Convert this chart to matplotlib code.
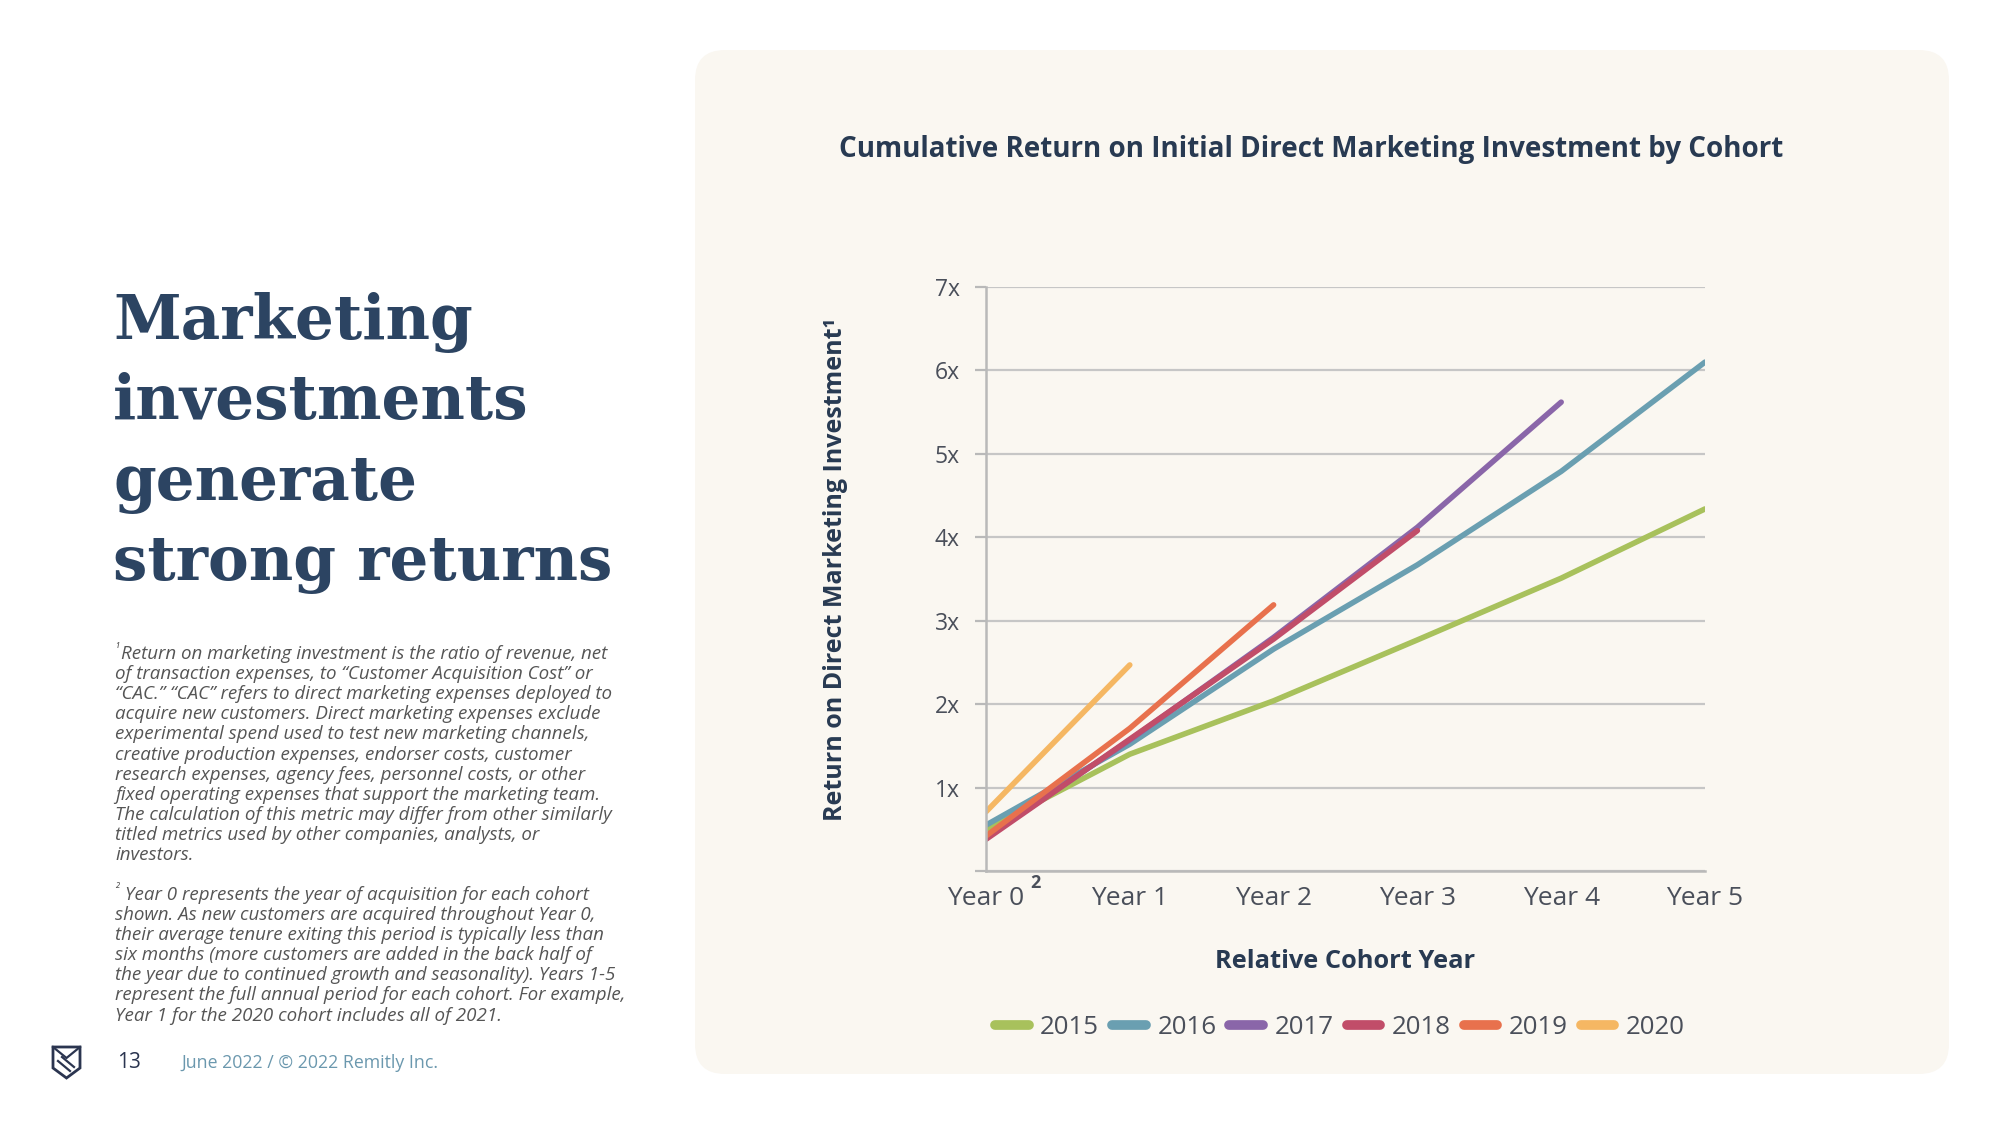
import matplotlib
matplotlib.use("Agg")
import matplotlib.pyplot as plt
from matplotlib.patches import FancyBboxPatch, Polygon
from matplotlib.lines import Line2D

plt.rcParams['font.family'] = ['Open Sans', 'DejaVu Sans']

# donnees
years = ["Year 0", "Year 1", "Year 2", "Year 3", "Year 4", "Year 5"]
cohorts = ["2015", "2016", "2017", "2018", "2019", "2020"]
ret_2015 = [0.50, 1.40, 2.04, 2.77, 3.51, 4.34]
ret_2016 = [0.55, 1.52, 2.66, 3.67, 4.79, 6.10]
ret_2017 = [0.40, 1.57, 2.80, 4.12, 5.62]
ret_2018 = [0.38, 1.58, 2.78, 4.08]
ret_2019 = [0.42, 1.71, 3.19]
ret_2020 = [0.71, 2.47]
y_ticks = [0, 1, 2, 3, 4, 5, 6, 7]
y_labels = ["", "1x", "2x", "3x", "4x", "5x", "6x", "7x"]
colors = ["#a8c15c", "#6a9fb1", "#8a66a9", "#c14d69", "#e8714d", "#f5b763"]

heading = ["Marketing", "investments", "generate", "strong returns"]
note1 = [
    "Return on marketing investment is the ratio of revenue, net",
    "of transaction expenses, to \u201cCustomer Acquisition Cost\u201d or",
    "\u201cCAC.\u201d \u201cCAC\u201d refers to direct marketing expenses deployed to",
    "acquire new customers. Direct marketing expenses exclude",
    "experimental spend used to test new marketing channels,",
    "creative production expenses, endorser costs, customer",
    "research expenses, agency fees, personnel costs, or other",
    "fixed operating expenses that support the marketing team.",
    "The calculation of this metric may differ from other similarly",
    "titled metrics used by other companies, analysts, or",
    "investors.",
]
note2 = [
    "Year 0 represents the year of acquisition for each cohort",
    "shown. As new customers are acquired throughout Year 0,",
    "their average tenure exiting this period is typically less than",
    "six months (more customers are added in the back half of",
    "the year due to continued growth and seasonality). Years 1-5",
    "represent the full annual period for each cohort. For example,",
    "Year 1 for the 2020 cohort includes all of 2021.",
]

W, H = 2000, 1125
fig = plt.figure(figsize=(20, 11.25), dpi=100)
fig.patch.set_facecolor("white")

# fond en pixels
bg = fig.add_axes([0, 0, 1, 1])
bg.set_xlim(0, W)
bg.set_ylim(H, 0)
bg.axis("off")

panel = FancyBboxPatch((695, 50), 1254, 1024, boxstyle="round,pad=0,rounding_size=30",
                       facecolor="#faf7f1", edgecolor="none")
bg.add_patch(panel)

navy = "#2c4462"
for i, line in enumerate(heading):
    bg.text(113, 339 + i * 80.5, line, fontsize=44, fontweight="bold",
            family="DejaVu Serif", color=navy, va="baseline", ha="left")

grey = "#555555"
bg.text(114, 649, "\u00b9", fontsize=9, style="italic", color=grey, va="center")
for i, line in enumerate(note1):
    x0 = 121 if i == 0 else 115
    bg.text(x0, 654 + i * 20.1, line, fontsize=13.5, style="italic",
            color=grey, va="center", ha="left")
bg.text(114, 890, "\u00b2", fontsize=9, style="italic", color=grey, va="center")
for i, line in enumerate(note2):
    x0 = 125 if i == 0 else 115
    bg.text(x0, 895 + i * 20.1, line, fontsize=13.5, style="italic",
            color=grey, va="center", ha="left")

# pied de page
logo = Polygon([(53, 1047), (80, 1047), (80, 1068), (66.5, 1078), (53, 1068)],
               closed=True, fill=False, edgecolor="#2b3550", lw=2, joinstyle="miter")
bg.add_patch(logo)
bg.plot([53, 66.5, 80], [1047, 1058, 1047], color="#2b3550", lw=1.6)
bg.plot([58, 70], [1061, 1071], color="#2b3550", lw=1.6)
bg.plot([62, 74], [1057, 1067], color="#2b3550", lw=1.6)
bg.text(117, 1062, "13", fontsize=15, color="#2b3550", va="center", ha="left")
bg.text(181, 1063, "June 2022 / \u00a9 2022 Remitly Inc.", fontsize=12.8,
        color="#6b98ae", va="center", ha="left")

# titre du graphique
title_col = "#283a52"
bg.text(1311, 149, "Cumulative Return on Initial Direct Marketing Investment by Cohort",
        fontsize=20, fontweight="bold", color=title_col, ha="center", va="center")

# axes du graphique
left, right, top, bottom = 986, 1705, 287, 871
ax = fig.add_axes([left / W, 1 - bottom / H, (right - left) / W, (bottom - top) / H])
ax.set_facecolor("none")

series = [ret_2015, ret_2016, ret_2017, ret_2018, ret_2019, ret_2020]
for vals, col, name in zip(series, colors, cohorts):
    ax.plot(range(len(vals)), vals, color=col, lw=4, solid_capstyle="round",
            solid_joinstyle="round", label=name)

ax.set_xlim(0, 5)
ax.set_ylim(0, 7)
ax.set_yticks(y_ticks)
ax.set_yticklabels(y_labels)
ax.set_xticks(range(len(years)))
ax.set_xticklabels(years)
ax.grid(axis="y", color="#c6c6c6", lw=1.6)
ax.set_axisbelow(True)
for s in ["top", "right"]:
    ax.spines[s].set_visible(False)
for s in ["left", "bottom"]:
    ax.spines[s].set_color("#b9b9b9")
    ax.spines[s].set_linewidth(1.8)
tick_col = "#4a4f5a"
ax.tick_params(axis="y", length=8, width=1.6, color="#b9b9b9", labelsize=16.5,
               labelcolor=tick_col, pad=11)
ax.tick_params(axis="x", length=0, labelsize=19, labelcolor=tick_col, pad=11)
ax.annotate("2", xy=(0, 0), xycoords=("data", "axes fraction"), xytext=(32, -9),
            textcoords="offset points", fontsize=13, fontweight="bold",
            color=tick_col, ha="left", va="center", annotation_clip=False)

ax.set_ylabel("Return on Direct Marketing Investment\u00b9", fontsize=18,
              fontweight="bold", color=title_col)
ax.yaxis.set_label_coords(-0.192, 0.517)
ax.set_xlabel("Relative Cohort Year", fontsize=18.3, fontweight="bold",
              color=title_col, labelpad=27)

handles = [Line2D([0], [0], color=c, lw=7, solid_capstyle="round") for c in colors]
leg = ax.legend(handles, cohorts, loc="center", bbox_to_anchor=(1340 / W, 1 - 1028 / H),
                bbox_transform=fig.transFigure, ncol=6, frameon=False, fontsize=18.6,
                handlelength=1.3, handletextpad=0.45, columnspacing=0.5)
for t in leg.get_texts():
    t.set_color(tick_col)

fig.savefig("out.png", dpi=100, facecolor="white")
